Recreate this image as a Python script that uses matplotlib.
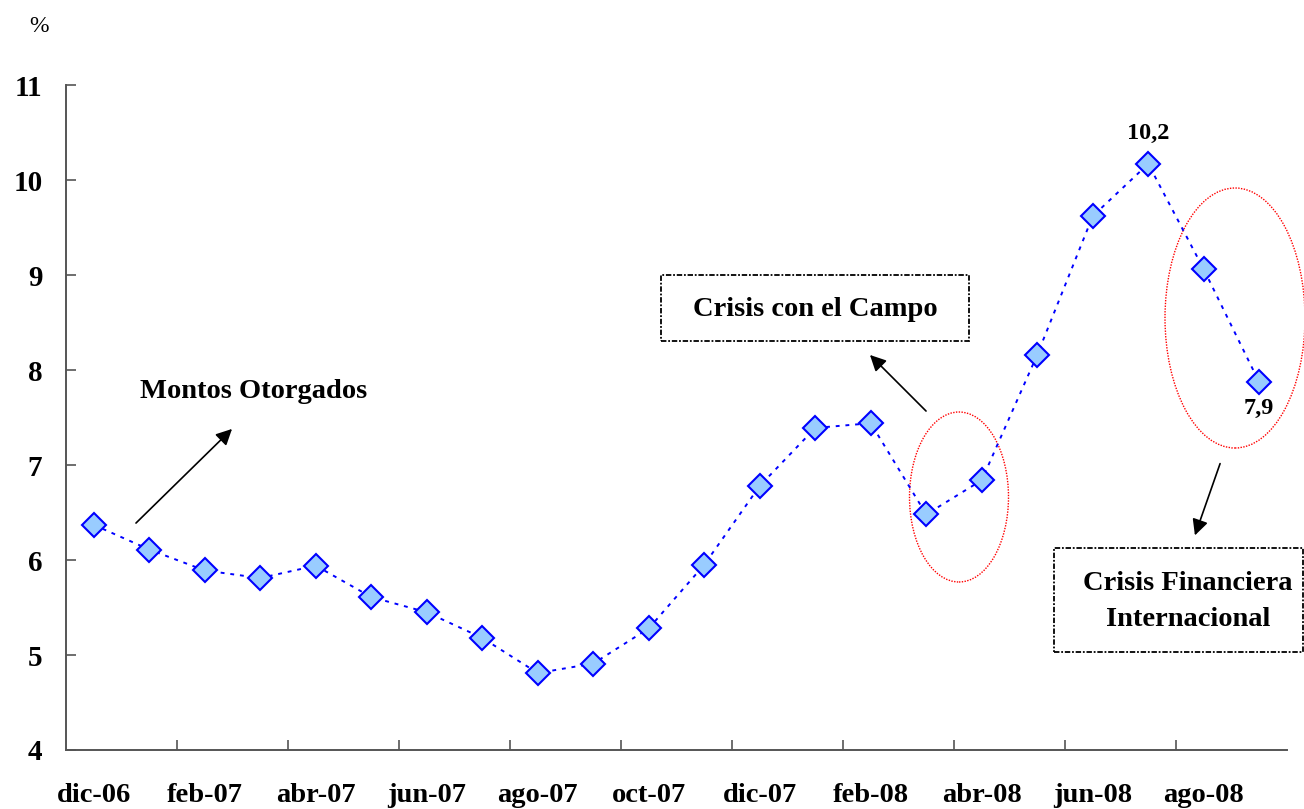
import matplotlib
matplotlib.use("Agg")
import matplotlib.pyplot as plt
from matplotlib.patches import Ellipse, Rectangle

months = ["dic-06", "ene-07", "feb-07", "mar-07", "abr-07", "may-07", "jun-07", "jul-07",
          "ago-07", "sep-07", "oct-07", "nov-07", "dic-07", "ene-08", "feb-08", "mar-08",
          "abr-08", "may-08", "jun-08", "jul-08", "ago-08", "sep-08"]
values = [6.37, 6.11, 5.89, 5.81, 5.94, 5.61, 5.45, 5.18, 4.81, 4.91, 5.28, 5.95,
          6.78, 7.39, 7.44, 6.48, 6.84, 8.16, 9.62, 10.17, 9.06, 7.87]
yticks = [4, 5, 6, 7, 8, 9, 10, 11]

plt.rcParams['font.family'] = ['Liberation Serif', 'DejaVu Serif']
plt.rcParams['font.weight'] = 'bold'

W, H = 1304, 809
fig = plt.figure(figsize=(W / 100, H / 100), dpi=100)
L, R, T, B = 66, 1287, 85, 750
ax = fig.add_axes([L / W, 1 - B / H, (R - L) / W, (B - T) / H])

x = list(range(len(months)))
ax.plot(x, values, linestyle=(0, (2, 3)), color='#0000FF', linewidth=1.4,
        marker='D', markersize=12, markerfacecolor='#99CCFF',
        markeredgecolor='#0000FF', markeredgewidth=1.5, zorder=3)

ax.set_xlim(-0.5, len(months) - 0.5)
ax.set_ylim(4, 11)
ax.set_yticks(yticks)
ax.set_yticklabels([str(v) for v in yticks], fontsize=21, fontweight='bold')
ax.tick_params(axis='y', direction='in', length=7, width=1.2, color='#555555', pad=17)

ax.set_xticks(x[::2])
ax.set_xticklabels(months[::2], fontsize=20.5, fontweight='bold')
ax.set_xticks([i - 0.5 for i in range(2, len(months), 2)], minor=True)
ax.tick_params(axis='x', which='major', length=0, pad=24)
ax.tick_params(axis='x', which='minor', direction='in', length=7, width=1.2, color='#555555')

for s in ['top', 'right']:
    ax.spines[s].set_visible(False)
for s in ['left', 'bottom']:
    ax.spines[s].set_color('#555555')
    ax.spines[s].set_linewidth(1.4)


def px(xp, yp):
    return ((xp - L) / (R - L) * len(months) - 0.5, 11 - (yp - T) / (B - T) * 7)


sx = len(months) / (R - L)
sy = 7 / (B - T)

fig.text(39 / W, 1 - 26 / H, "%", fontsize=17, ha='center', va='center', fontweight='normal')

# value labels
ax.annotate("10,2", xy=(19, values[19]), xytext=(0, 22), textcoords='offset points',
            ha='center', va='center', fontsize=17.5, fontweight='bold')
ax.annotate("7,9", xy=(21, values[21]), xytext=(0, -19), textcoords='offset points',
            ha='center', va='center', fontsize=17.5, fontweight='bold')

# Montos Otorgados
ax.text(*px(254, 391), "Montos Otorgados", fontsize=20.5, fontweight='bold', ha='center', va='center')
ax.annotate("", xy=px(234, 427), xytext=px(134, 525),
            arrowprops=dict(arrowstyle='-|>', color='black', lw=1.2, mutation_scale=24))

box_style = dict(fill=False, edgecolor='black', linestyle=(0, (3, 1, 1, 1)), linewidth=1.3,
                 clip_on=False, zorder=4)

# Crisis con el Campo
x0, y0 = px(661, 341)
x1, y1 = px(969, 275)
ax.add_patch(Rectangle((x0, y0), x1 - x0, y1 - y0, **box_style))
ax.text(*px(815, 309), "Crisis con el Campo", fontsize=20.5, fontweight='bold', ha='center', va='center')
ax.annotate("", xy=px(868, 353), xytext=px(928, 413),
            arrowprops=dict(arrowstyle='-|>', color='black', lw=1.2, mutation_scale=24))

# Crisis Financiera Internacional
x0, y0 = px(1054, 652)
x1, y1 = px(1303, 548)
ax.add_patch(Rectangle((x0, y0), x1 - x0, y1 - y0, **box_style))
ax.text(*px(1188, 584), "Crisis Financiera", fontsize=20.5, fontweight='bold',
        ha='center', va='center', clip_on=False)
ax.text(*px(1188, 619), "Internacional", fontsize=20.5, fontweight='bold',
        ha='center', va='center', clip_on=False)
ax.annotate("", xy=px(1194, 538), xytext=px(1221, 461),
            arrowprops=dict(arrowstyle='-|>', color='black', lw=1.2, mutation_scale=24))

# ellipses
e1 = Ellipse(px(959, 497), 99 * sx, 170 * sy, fill=False, edgecolor='red',
             linestyle=(0, (1, 1)), linewidth=1.0, clip_on=False)
e2 = Ellipse(px(1235, 318), 140 * sx, 260 * sy, fill=False, edgecolor='red',
             linestyle=(0, (1, 1)), linewidth=1.0, clip_on=False)
ax.add_patch(e1)
ax.add_patch(e2)

fig.savefig("out.png", dpi=100)
